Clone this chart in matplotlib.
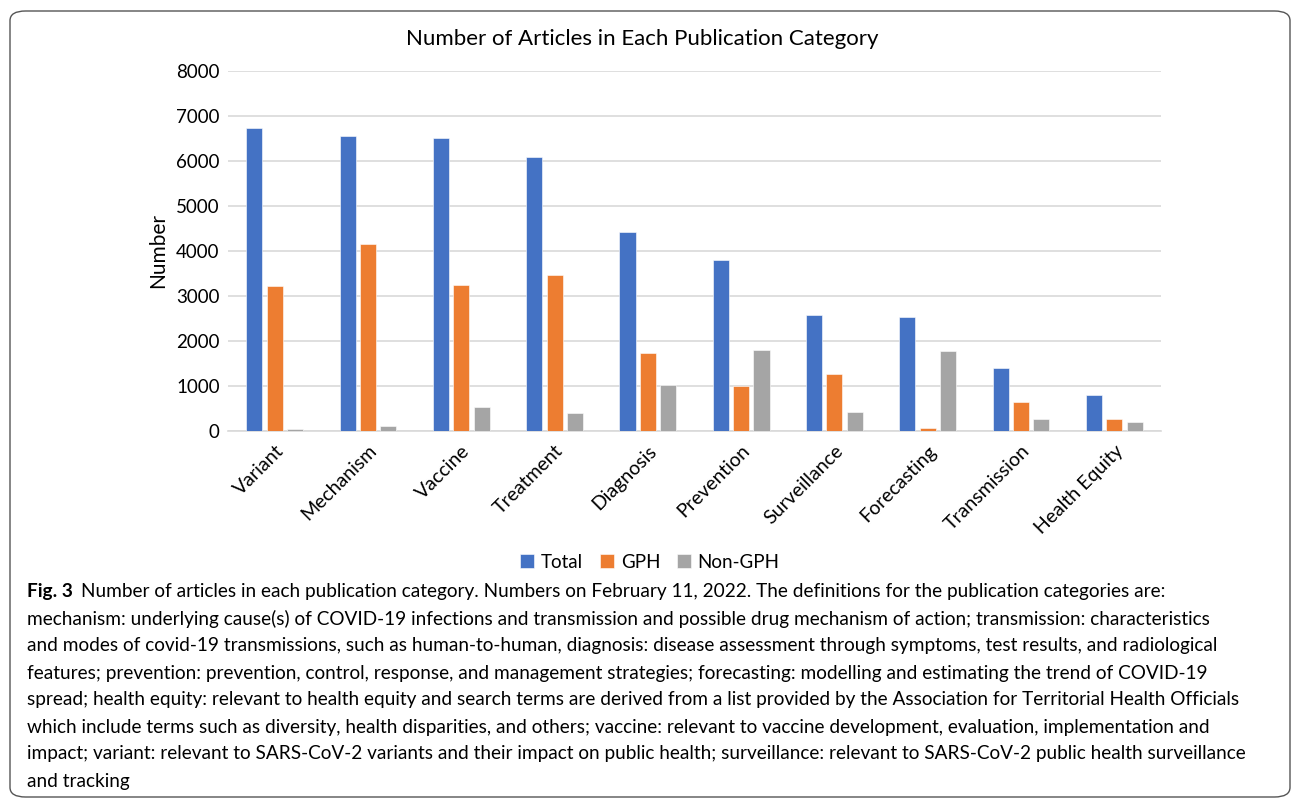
import matplotlib.pyplot as plt
import numpy as np
from matplotlib.patches import FancyBboxPatch

plt.rcParams['font.family'] = ['Lato', 'DejaVu Sans']

categories = ['Variant', 'Mechanism', 'Vaccine', 'Treatment', 'Diagnosis',
              'Prevention', 'Surveillance', 'Forecasting', 'Transmission', 'Health Equity']
total = [6735, 6550, 6500, 6090, 4425, 3800, 2575, 2525, 1400, 800]
gph = [3220, 4165, 3250, 3470, 1740, 990, 1260, 75, 650, 275]
non_gph = [45, 110, 535, 405, 1020, 1790, 430, 1785, 265, 200]
series_names = ['Total', 'GPH', 'Non-GPH']
colors = ['#4472C4', '#ED7D31', '#A5A5A5']

caption_lines = [
    'Number of articles in each publication category. Numbers on February 11, 2022. The definitions for the publication categories are:',
    'mechanism: underlying cause(s) of COVID-19 infections and transmission and possible drug mechanism of action; transmission: characteristics',
    'and modes of covid-19 transmissions, such as human-to-human, diagnosis: disease assessment through symptoms, test results, and radiological',
    'features; prevention: prevention, control, response, and management strategies; forecasting: modelling and estimating the trend of COVID-19',
    'spread; health equity: relevant to health equity and search terms are derived from a list provided by the Association for Territorial Health Officials',
    'which include terms such as diversity, health disparities, and others; vaccine: relevant to vaccine development, evaluation, implementation and',
    'impact; variant: relevant to SARS-CoV-2 variants and their impact on public health; surveillance: relevant to SARS-CoV-2 public health surveillance',
    'and tracking',
]

fig = plt.figure(figsize=(12.95, 8), dpi=100)
W, H = 1295, 800

# rounded frame round the whole figure
frame = FancyBboxPatch((10 / W, 3 / H), 1280 / W, 786 / H,
                       boxstyle='round,pad=0,rounding_size=0.012',
                       transform=fig.transFigure, fill=False,
                       edgecolor='#555555', linewidth=1.0)
fig.patches.append(frame)

ax = fig.add_axes([228 / W, 1 - 431 / H, 933 / W, 360 / H])
x = np.arange(len(categories))
bw = 0.172
step = 0.218
for k, (vals, name, c) in enumerate(zip([total, gph, non_gph], series_names, colors)):
    ax.bar(x + (k - 1) * step, vals, bw, color=c, label=name,
           edgecolor='white', linewidth=0.4, zorder=3)

ax.set_xlim(-0.5, len(categories) - 0.5)
ax.set_ylim(0, 8000)
ax.set_yticks(range(0, 8001, 1000))
ax.grid(axis='y', color='#D9D9D9', linewidth=1.2, zorder=0)
for s in ['top', 'right', 'left']:
    ax.spines[s].set_visible(False)
ax.spines['bottom'].set_color('#D9D9D9')
ax.spines['bottom'].set_linewidth(1.2)
ax.tick_params(axis='both', length=0, labelsize=13.5, colors='#000000')
ax.tick_params(axis='y', pad=6)
ax.set_xticks(x)
ax.set_xticklabels(categories, rotation=45, ha='right', rotation_mode='anchor', fontsize=14)
ax.tick_params(axis='x', pad=8)
ax.set_ylabel('Number', fontsize=15, labelpad=6)

fig.text(642 / W, 1 - 39 / H, 'Number of Articles in Each Publication Category',
         ha='center', va='center', fontsize=16)

handles, labels = ax.get_legend_handles_labels()
fig.legend(handles, labels, loc='center', bbox_to_anchor=(650 / W, 1 - 562 / H),
           ncol=3, frameon=False, fontsize=13.5, handlelength=0.75, handleheight=0.75,
           handletextpad=0.35, columnspacing=0.9)

# caption
y0 = 592
fig_lbl = fig.text(27 / W, 1 - y0 / H, 'Fig. 3', fontsize=13.7, fontweight='bold',
                   va='center', ha='left')
ax.annotate(caption_lines[0], xy=(1, 0.5), xycoords=fig_lbl, xytext=(6, 0),
            textcoords='offset points', va='center', ha='left', fontsize=13.7,
            annotation_clip=False)
for i, line in enumerate(caption_lines[1:], start=1):
    fig.text(27 / W, 1 - (y0 + 27 * i) / H, line, fontsize=13.7, va='center', ha='left')

plt.savefig('out.png', dpi=100)
